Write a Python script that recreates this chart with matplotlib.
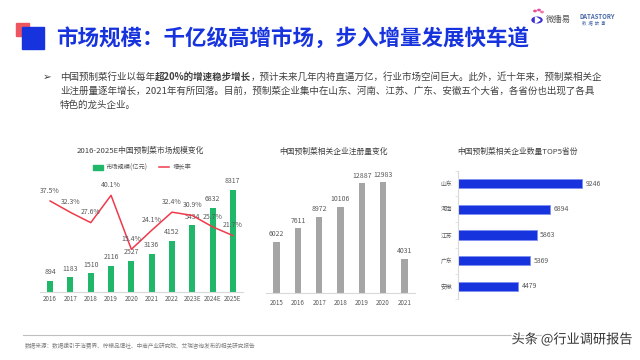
import numpy as np
import matplotlib
matplotlib.use("Agg")
import matplotlib.pyplot as plt
from matplotlib.patches import Rectangle, Circle, Polygon
from matplotlib.lines import Line2D
import matplotlib.patheffects as pe

plt.rcParams['font.family'] = ['Noto Sans CJK SC', 'DejaVu Sans']

# ---- data ----
years_a = ['2016', '2017', '2018', '2019', '2020', '2021', '2022', '2023E', '2024E', '2025E']
market_size = [894, 1183, 1510, 2116, 2527, 3136, 4152, 5434, 6832, 8317]
growth_rate = [37.5, 32.3, 27.6, 40.1, 15.4, 24.1, 32.4, 30.9, 25.7, 21.7]

years_b = ['2015', '2016', '2017', '2018', '2019', '2020', '2021']
registrations = [6022, 7611, 8972, 10106, 12887, 12983, 4031]

provinces = ['山东', '河南', '江苏', '广东', '安徽']
province_counts = [9246, 6894, 5863, 5369, 4479]

W, H = 640, 360
BLUE = '#1733dd'
GREEN = '#21b76a'
RED = '#ef3a4c'
GRAY_BAR = '#a5a5a5'
TXT = '#595959'

fig = plt.figure(figsize=(6.4, 3.6), dpi=100)
fig.patch.set_facecolor('white')


def fx(x):
    return x / W


def fy(y):
    return 1 - y / H


def box(x0, y0, x1, y1):
    return [fx(x0), fy(y1), fx(x1) - fx(x0), (y1 - y0) / H]


# ---- header ----
fig.patches.append(Rectangle((fx(16), fy(36)), 13 / W, 13 / H, transform=fig.transFigure,
                             color='#ef5560', zorder=1))
fig.patches.append(Rectangle((fx(21.5), fy(48.5)), 22 / W, 22 / H, transform=fig.transFigure,
                             color=BLUE, zorder=2))
fig.text(fx(56), fy(38), '市场规模：千亿级高增市场，步入增量发展快车道', fontsize=15.5,
         fontweight='bold', color=BLUE, va='center', ha='left')

# logos
fig.patches.append(Circle((fx(537), fy(20)), 5 / W, transform=fig.transFigure, color='#3b2fd6'))
fig.patches.append(Polygon([(fx(535.5), fy(17)), (fx(535.5), fy(23)), (fx(540), fy(20))],
                           closed=True, transform=fig.transFigure, color='white'))
for dx, dy, c in [(535, 11, '#f0508c'), (539, 10, '#e64fb0'), (542, 12, '#f07aa0')]:
    fig.patches.append(Circle((fx(dx), fy(dy)), 1.2 / W, transform=fig.transFigure, color=c))
fig.text(fx(546), fy(19.5), '微播易', fontsize=6, color='#555555', va='center')
fig.text(fx(580), fy(16.5), 'DATASTORY', fontsize=4.3, fontweight='bold', color='#4a6aa8',
         va='center')
fig.text(fx(582), fy(23), '数  据  故  事', fontsize=3.2, color='#4a6aa8', va='center')

# ---- paragraph with a bold part ----
renderer = fig.canvas.get_renderer()
PFS = 6.85
fig.text(fx(43), fy(77), '➢', fontsize=7.5, color='#404040', va='center')


def write_runs(x, y, runs):
    for s, bold in runs:
        t = fig.text(fx(x), fy(y), s, fontsize=PFS, color='#404040', va='center',
                     fontweight='bold' if bold else 'normal')
        x = t.get_window_extent(renderer).x1


write_runs(60, 77, [('中国预制菜行业以每年', False), ('超20%的增速稳步增长', True),
                    ('，预计未来几年内将直逼万亿，行业市场空间巨大。此外，近十年来，预制菜相关企', False)])
write_runs(60, 91, [('业注册量逐年增长，2021年有所回落。目前，预制菜企业集中在山东、河南、江苏、广东、安徽五个大省，各省份也出现了各具', False)])
write_runs(60, 105, [('特色的龙头企业。', False)])

# ---- chart 1: market size + growth ----
ax1 = fig.add_axes(box(40, 180, 243, 292))
x_a = np.arange(len(years_a))
bars = ax1.bar(x_a, market_size, width=0.3, color=GREEN)
ax1.set_xlim(-0.5, len(years_a) - 0.5)
ax1.set_ylim(0, 9135)
for b, v in zip(bars, market_size):
    ax1.annotate(str(v), (b.get_x() + b.get_width() / 2, v), xytext=(0, 3.5),
                 textcoords='offset points', ha='center', va='bottom', fontsize=5, color=TXT)
ax1.set_xticks(x_a)
ax1.set_xticklabels(years_a)
ax1.tick_params(axis='x', length=0, labelsize=4.5, labelcolor=TXT, pad=2.5)
ax1.set_yticks([])
for s in ['top', 'right', 'left']:
    ax1.spines[s].set_visible(False)
ax1.spines['bottom'].set_color('#d9d9d9')

ax1b = ax1.twinx()
ax1b.plot(x_a, growth_rate, color=RED, lw=1.1)
ax1b.set_ylim(-4.1, 47.1)
for xi, g in zip(x_a, growth_rate):
    ax1b.annotate(f'{g}%', (xi, g), xytext=(0, 4.5), textcoords='offset points',
                  ha='center', va='bottom', fontsize=5, color=TXT)
ax1b.set_yticks([])
for s in ax1b.spines.values():
    s.set_visible(False)

fig.text(fx(140.5), fy(151), '2016-2025E中国预制菜市场规模变化', fontsize=5.6, color='#404040',
         ha='center', va='center')
handles = [Rectangle((0, 0), 1, 1, color=GREEN), Line2D([0], [0], color=RED, lw=1.1)]
fig.legend(handles, ['市场规模(亿元)', '增长率'], loc='center', bbox_to_anchor=(fx(142), fy(167.5)),
           ncol=2, frameon=False, fontsize=4.5, labelcolor=TXT, handlelength=1.6,
           handleheight=0.8, columnspacing=1.8, handletextpad=0.5)

# ---- chart 2: registrations ----
ax2 = fig.add_axes(box(266, 175, 415, 293))
x_b = np.arange(len(years_b))
bars2 = ax2.bar(x_b, registrations, width=0.3, color=GRAY_BAR)
ax2.set_xlim(-0.5, len(years_b) - 0.5)
ax2.set_ylim(0, 13850)
for b, v in zip(bars2, registrations):
    ax2.annotate(str(v), (b.get_x() + b.get_width() / 2, v), xytext=(0, 2.5),
                 textcoords='offset points', ha='center', va='bottom', fontsize=5, color=TXT)
ax2.set_xticks(x_b)
ax2.set_xticklabels(years_b)
ax2.tick_params(axis='x', length=0, labelsize=4.5, labelcolor=TXT, pad=4)
ax2.set_yticks([])
for s in ['top', 'right', 'left']:
    ax2.spines[s].set_visible(False)
ax2.spines['bottom'].set_color('#d9d9d9')
fig.text(fx(334), fy(151.5), '中国预制菜相关企业注册量变化', fontsize=5.6, color='#404040',
         ha='center', va='center')

# ---- chart 3: top5 provinces ----
ax3 = fig.add_axes(box(458, 170.7, 630, 299.3))
y_c = np.arange(len(provinces))
bars3 = ax3.barh(y_c, province_counts, height=0.36, color=BLUE, edgecolor='#7d8ff0', linewidth=0.6)
ax3.set_ylim(len(provinces) - 0.5, -0.5)
ax3.set_xlim(0, 12826)
for b, v in zip(bars3, province_counts):
    ax3.annotate(str(v), (v, b.get_y() + b.get_height() / 2), xytext=(2.5, 0),
                 textcoords='offset points', ha='left', va='center', fontsize=5, color=TXT)
ax3.set_yticks(y_c)
ax3.set_yticklabels(provinces)
ax3.set_yticks(np.arange(-0.5, len(provinces)), minor=True)
ax3.tick_params(axis='y', which='major', length=0, labelsize=4.2, labelcolor=TXT, pad=4)
ax3.tick_params(axis='y', which='minor', length=2, color='#d9d9d9', width=0.5)
ax3.set_xticks([])
for s in ['top', 'right', 'bottom']:
    ax3.spines[s].set_visible(False)
ax3.spines['left'].set_color('#d9d9d9')
fig.text(fx(457), fy(151.5), '中国预制菜相关企业数量TOP5省份', fontsize=5.6, color='#404040',
         ha='left', va='center')

# ---- footer ----
fig.lines.append(Line2D([fx(22.5), fx(615)], [fy(335.3), fy(335.3)], transform=fig.transFigure,
                        color='#bfbfbf', lw=0.8))
fig.text(fx(25), fy(346.3), '数据来源：数据援引于消费界、柠檬品牌社、中商产业研究院、艾瑞咨询发布的相关研究报告',
         fontsize=4.1, color='#7f7f7f', va='center')
fig.text(fx(633), fy(339), '头条 @行业调研报告', fontsize=9.5, color='#333333', ha='right', va='center',
         path_effects=[pe.withStroke(linewidth=2, foreground='white')])

fig.savefig('out.png', dpi=100)
